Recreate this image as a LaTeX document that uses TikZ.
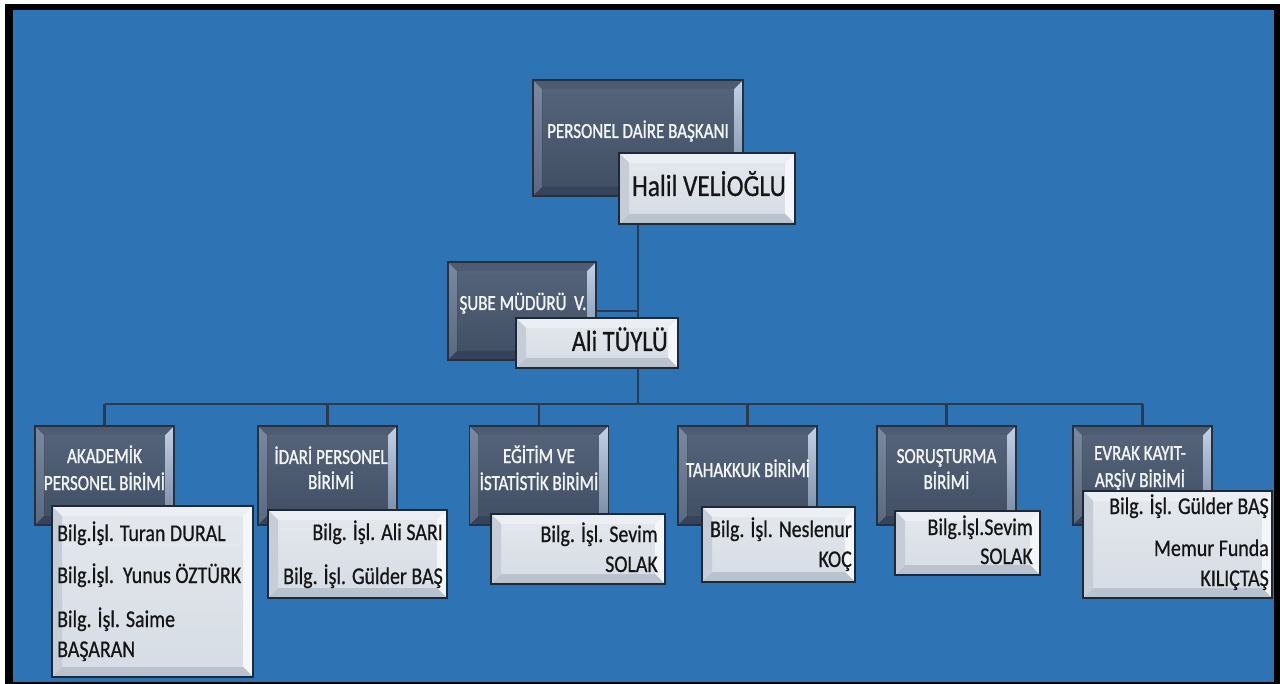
\documentclass[tikz,border=0pt]{standalone}
\usepackage{fontspec}
\setmainfont{Carlito}[FakeStretch=0.83, FakeBold=0.6]
\newfontfamily\dkfam{Carlito}[FakeStretch=0.79, FakeBold=1.2]
\usetikzlibrary{backgrounds}
\definecolor{bgblue}{HTML}{2E74B5}
\definecolor{connc}{HTML}{2C3A4D}
\definecolor{dkline}{HTML}{27303D}
\definecolor{dkA}{HTML}{56657B}
\definecolor{dkB}{HTML}{404E63}
\definecolor{dkTop}{HTML}{4E5C71}
\definecolor{dkRa}{HTML}{C3D1E4}
\definecolor{dkRb}{HTML}{7385A0}
\definecolor{dkBot}{HTML}{37435A}
\definecolor{dkLa}{HTML}{7A899F}
\definecolor{dkLb}{HTML}{5A6980}
\definecolor{dktext}{HTML}{F2F5F9}
\definecolor{ltline}{HTML}{1E2937}
\definecolor{ltA}{HTML}{E4E8EE}
\definecolor{ltB}{HTML}{D6DCE4}
\definecolor{ltTop}{HTML}{EBEEF2}
\definecolor{ltR}{HTML}{F4F6F9}
\definecolor{ltBot}{HTML}{BAC2CD}
\definecolor{ltL}{HTML}{C6CDD7}
\definecolor{lttext}{HTML}{151515}
\newcommand\bevelpic[5]{%
  \path (path picture bounding box.north west) coordinate (bNW)
        (path picture bounding box.north east) coordinate (bNE)
        (path picture bounding box.south east) coordinate (bSE)
        (path picture bounding box.south west) coordinate (bSW);
  \fill[#2] (bNW) -- (bNE) -- ([shift={(-#1,-#1)}]bNE) -- ([shift={(#1,-#1)}]bNW) -- cycle;
  \fill[#3] (bNE) -- (bSE) -- ([shift={(-#1,#1)}]bSE) -- ([shift={(-#1,-#1)}]bNE) -- cycle;
  \fill[#4] (bSE) -- (bSW) -- ([shift={(#1,#1)}]bSW) -- ([shift={(-#1,#1)}]bSE) -- cycle;
  \fill[#5] (bSW) -- (bNW) -- ([shift={(#1,-#1)}]bNW) -- ([shift={(#1,#1)}]bSW) -- cycle;
}
\tikzset{
  darkbox/.style={rectangle, draw=dkline, line width=1.3pt, top color=dkA, bottom color=dkB,
    inner sep=0pt,
    path picture={\bevelpic{9pt}{fill=dkTop}{top color=dkRa, bottom color=dkRb}{fill=dkBot}{top color=dkLa, bottom color=dkLb}}},
  lightbox/.style={rectangle, draw=ltline, line width=2pt, top color=ltA, bottom color=ltB,
    inner sep=0pt,
    path picture={\bevelpic{10pt}{fill=ltTop}{fill=ltR}{fill=ltBot}{fill=ltL}}},
  connector/.style={draw=connc, line width=2.6pt},
  dtext/.style={inner sep=0pt, anchor=base, text=dktext, font=\dkfam\fontsize{21.5}{26}\selectfont},
  ltextR/.style={inner sep=0pt, anchor=base east, text=lttext, font=\fontsize{24}{28}\selectfont},
  ltextL/.style={inner sep=0pt, anchor=base west, text=lttext, font=\fontsize{24}{28}\selectfont},
}
\begin{document}
\begin{tikzpicture}[x=1pt,y=-1pt]
\useasboundingbox (0,0) rectangle (1280,684);

% top level
\node[darkbox, minimum width=210pt, minimum height=116pt] (daire) at (638,138) {};
\node[dtext] (dairet) at (638,138) {PERSONEL DAİRE BAŞKANI};
\node[lightbox, minimum width=176pt, minimum height=71pt] (halil) at (707,188.5) {};
\node[inner sep=0pt, anchor=base, text=lttext, font=\fontsize{30.5}{36}\selectfont] (halilt) at (709,196) {Halil VELİOĞLU};

% assistant
\node[darkbox, minimum width=148pt, minimum height=98pt] (sube) at (522,311) {};
\node[dtext] (subet) at (523,310) {ŞUBE MÜDÜRÜ\ \ V.};
\node[lightbox, minimum width=162pt, minimum height=50pt] (ali) at (597,343) {};
\node[inner sep=0pt, anchor=base east, text=lttext, font=\fontsize{29.5}{34}\selectfont] (alit) at (668,351) {Ali TÜYLÜ};

\coordinate (bar) at (638,404);

% children dark boxes
\node[darkbox, minimum width=139pt, minimum height=99pt] (akad) at (104.5,475.5) {};
\node[darkbox, minimum width=139pt, minimum height=99pt] (idari) at (327.5,475.5) {};
\node[darkbox, minimum width=139pt, minimum height=99pt] (egitim) at (539,475.5) {};
\node[darkbox, minimum width=139pt, minimum height=99pt] (tah) at (747.5,475.5) {};
\node[darkbox, minimum width=139pt, minimum height=99pt] (soru) at (946.5,475.5) {};
\node[darkbox, minimum width=139pt, minimum height=99pt] (evrak) at (1142.5,475.5) {};

\node[dtext] (akadt1) at (104.5,463) {AKADEMİK};
\node[dtext] (akadt2) at (104.5,490) {PERSONEL BİRİMİ};
\node[dtext] (idarit1) at (331,464) {İDARİ PERSONEL};
\node[dtext] (idarit2) at (331,489) {BİRİMİ};
\node[dtext] (egitimt1) at (539,463) {EĞİTİM VE};
\node[dtext] (egitimt2) at (539,490) {İSTATİSTİK BİRİMİ};
\node[dtext] (taht1) at (748,477) {TAHAKKUK BİRİMİ};
\node[dtext] (sorut1) at (946.5,463) {SORUŞTURMA};
\node[dtext] (sorut2) at (946.5,489) {BİRİMİ};
\node[dtext] (evrakt1) at (1140,460) {EVRAK KAYIT-};
\node[dtext] (evrakt2) at (1140,487) {ARŞİV BİRİMİ};

% children light boxes
\node[lightbox, minimum width=201pt, minimum height=171pt] (akadL) at (152.5,591.5) {};
\node[ltextL] (akadL1) at (57,541) {Bilg.İşl. Turan DURAL};
\node[ltextL] (akadL2) at (57,583) {Bilg.İşl.\ \ Yunus ÖZTÜRK};
\node[ltextL] (akadL3) at (57,627) {Bilg. İşl. Saime};
\node[ltextL] (akadL4) at (57,657) {BAŞARAN};

\node[lightbox, minimum width=179pt, minimum height=88pt] (idariL) at (357.5,554) {};
\node[ltextR] (idariL1) at (443,540) {Bilg. İşl. Ali SARI};
\node[ltextR] (idariL2) at (443,584) {Bilg. İşl. Gülder BAŞ};

\node[lightbox, minimum width=174pt, minimum height=70pt] (egitimL) at (578,549) {};
\node[ltextR] (egitimL1) at (658,542) {Bilg. İşl. Sevim};
\node[ltextR] (egitimL2) at (658,572) {SOLAK};

\node[lightbox, minimum width=153pt, minimum height=75pt] (tahL) at (778.5,544.5) {};
\node[ltextR] (tahL1) at (852,537) {Bilg. İşl. Neslenur};
\node[ltextR] (tahL2) at (852,567) {KOÇ};

\node[lightbox, minimum width=145pt, minimum height=64pt] (soruL) at (967.5,543) {};
\node[ltextR] (soruL1) at (1033,535) {Bilg.İşl.Sevim};
\node[ltextR] (soruL2) at (1033,564) {SOLAK};

\node[lightbox, minimum width=189pt, minimum height=107pt] (evrakL) at (1177.5,544.5) {};
\node[ltextR] (evrakL1) at (1269,514) {Bilg. İşl. Gülder BAŞ};
\node[ltextR] (evrakL2) at (1269,556) {Memur Funda};
\node[ltextR] (evrakL3) at (1269,586) {KILIÇTAŞ};

% frame and connectors behind the boxes
\begin{scope}[on background layer]
\fill[white] (0,0) rectangle (1280,684);
\fill[black] (5,4) rectangle (1280,684);
\fill[bgblue] (13,10) rectangle (1274,682);
\draw[connector] (halil.south -| daire.south) -- (bar);
\draw[connector] (sube.east) -- (sube.east -| bar);
\draw[connector] (bar -| akad.north) -- (bar -| evrak.north);
\foreach \n in {akad,idari,egitim,tah,soru,evrak}{
  \draw[connector] (bar -| \n.north) -- (\n.north);
}
\end{scope}
\end{tikzpicture}
\end{document}
